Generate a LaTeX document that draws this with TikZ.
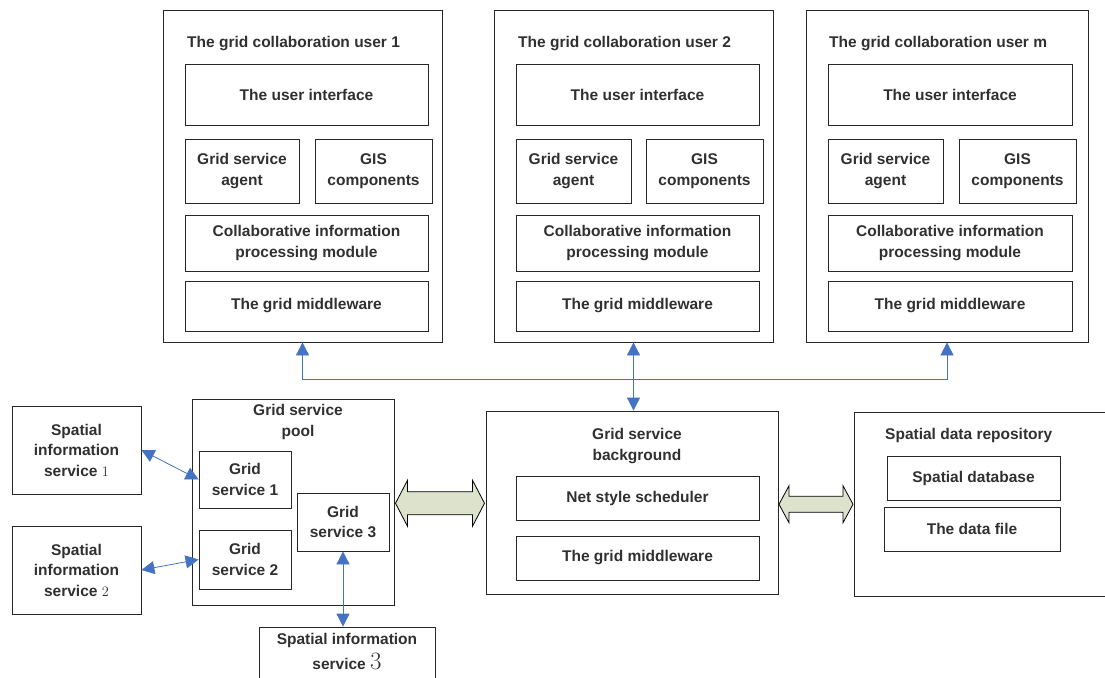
\documentclass[tikz,border=0pt]{standalone}
\usepackage{fontspec}
\setmainfont{Liberation Sans}
\usetikzlibrary{arrows.meta,calc}

\definecolor{linkblue}{RGB}{68,114,196}
\definecolor{fatgreen}{RGB}{221,226,204}
\definecolor{textgray}{RGB}{48,48,48}

\tikzset{
  box/.style={draw=black!85,line width=0.8pt,inner sep=0pt,align=center,text=textgray,font=\fontsize{15.5}{20.5}\selectfont\bfseries},
  title/.style={inner sep=0pt,align=center,text=textgray,font=\fontsize{15.5}{20.5}\selectfont\bfseries},
  link/.style={draw=linkblue,line width=0.8pt,{Triangle[length=13pt,width=13pt]}-{Triangle[length=13pt,width=13pt]}},
  fatarrow/.style={draw=black,line width=0.8pt,fill=fatgreen,line join=miter}
}

\begin{document}
\begin{tikzpicture}[x=1pt,y=-1pt]
  \useasboundingbox (0,0) rectangle (1105,677);

  % grid collaboration users
  \node[box,minimum width=279,minimum height=332] (user1) at (302.5,176) {};
  \node[title,anchor=west] (user1t) at (187,43.5) {The grid collaboration user 1};
  \node[box,minimum width=243,minimum height=61] (ui1) at (306.5,94.5) {The user interface};
  \node[box,minimum width=114,minimum height=64] (agent1) at (242,171) {Grid service\\agent};
  \node[box,minimum width=117,minimum height=64] (gis1) at (373.5,171) {GIS\\components};
  \node[box,minimum width=243,minimum height=56] (collab1) at (306.5,243) {Collaborative information\\processing module};
  \node[box,minimum width=243,minimum height=50] (mid1) at (306.5,306) {The grid middleware};

  \node[box,minimum width=279,minimum height=332] (user2) at (633.5,176) {};
  \node[title,anchor=west] (user2t) at (518,43.5) {The grid collaboration user 2};
  \node[box,minimum width=243,minimum height=61] (ui2) at (637.5,94.5) {The user interface};
  \node[box,minimum width=115,minimum height=64] (agent2) at (573.5,171) {Grid service\\agent};
  \node[box,minimum width=117,minimum height=64] (gis2) at (704.5,171) {GIS\\components};
  \node[box,minimum width=243,minimum height=56] (collab2) at (637.5,243) {Collaborative information\\processing module};
  \node[box,minimum width=243,minimum height=50] (mid2) at (637.5,306) {The grid middleware};

  \node[box,minimum width=282,minimum height=332] (userm) at (947,176) {};
  \node[title,anchor=west] (usermt) at (829,43.5) {The grid collaboration user m};
  \node[box,minimum width=244,minimum height=61] (uim) at (950,94.5) {The user interface};
  \node[box,minimum width=115,minimum height=64] (agentm) at (885.5,171) {Grid service\\agent};
  \node[box,minimum width=117,minimum height=64] (gism) at (1017.5,171) {GIS\\components};
  \node[box,minimum width=244,minimum height=56] (collabm) at (950,243) {Collaborative information\\processing module};
  \node[box,minimum width=244,minimum height=50] (midm) at (950,306) {The grid middleware};

  % grid service pool
  \node[box,minimum width=202,minimum height=206] (pool) at (293,502) {};
  \node[title] (poolt) at (298,422) {Grid service\\pool};
  \node[box,minimum width=92,minimum height=57] (gs1) at (245,479.5) {Grid\\service 1};
  \node[box,minimum width=92,minimum height=59] (gs2) at (245,559.5) {Grid\\service 2};
  \node[box,minimum width=92,minimum height=58] (gs3) at (343,522) {Grid\\service 3};

  % spatial information services
  \node[box,minimum width=129,minimum height=88] (si1) at (76.5,450) {Spatial\\information\\service $1$};
  \node[box,minimum width=129,minimum height=88] (si2) at (76.5,570) {Spatial\\information\\service $2$};
  \node[box,minimum width=176,minimum height=60] (si3) at (347,657) {};
  \node[title,font=\fontsize{15.5}{25}\selectfont\bfseries] (si3t) at (347,651) {Spatial information\\service {\fontsize{24}{24}\selectfont$3$}};

  % grid service background
  \node[box,minimum width=292,minimum height=183] (bg) at (632,502.5) {};
  \node[title] (bgt) at (637,446) {Grid service\\background};
  \node[box,minimum width=243,minimum height=44] (sched) at (637.5,498) {Net style scheduler};
  \node[box,minimum width=243,minimum height=44] (bgmid) at (637.5,558) {The grid middleware};

  % spatial data repository
  \node[box,minimum width=256,minimum height=184] (repo) at (982,504) {};
  \node[title,anchor=west] (repot) at (885,435) {Spatial data repository};
  \node[box,minimum width=173,minimum height=44] (sdb) at (973.5,478) {Spatial database};
  \node[box,minimum width=176,minimum height=44] (dfile) at (972,529) {The data file};

  % connectors
  \draw[link] (user1.south) -- ++(0,37) -| (userm.south);
  \draw[link] (user2.south) -- (user2.south |- bg.north);
  \draw[link] (si1.east) -- (gs1.west);
  \draw[link] (si2.east) -- (gs2.west);
  \draw[link] (gs3.south) -- (gs3.south |- si3.north);

  % wide double arrows
  \coordinate (fatL) at ($(pool.east)!0.5!(bg.west)+(0,1)$);
  \coordinate (fatR) at ($(bg.east)!0.5!(repo.west)+(0,1)$);
  \draw[fatarrow,shift={(fatL)}] (-44.5,0) -- (-32.5,-23) -- (-32.5,-11.5) -- (32.5,-11.5) -- (32.5,-23)
    -- (44.5,0) -- (32.5,23) -- (32.5,11.5) -- (-32.5,11.5) -- (-32.5,23) -- cycle;
  \draw[fatarrow,shift={(fatR)}] (-37,0) -- (-27,-18.5) -- (-27,-8) -- (27,-8) -- (27,-18.5)
    -- (37,0) -- (27,18.5) -- (27,8) -- (-27,8) -- (-27,18.5) -- cycle;
\end{tikzpicture}
\end{document}
